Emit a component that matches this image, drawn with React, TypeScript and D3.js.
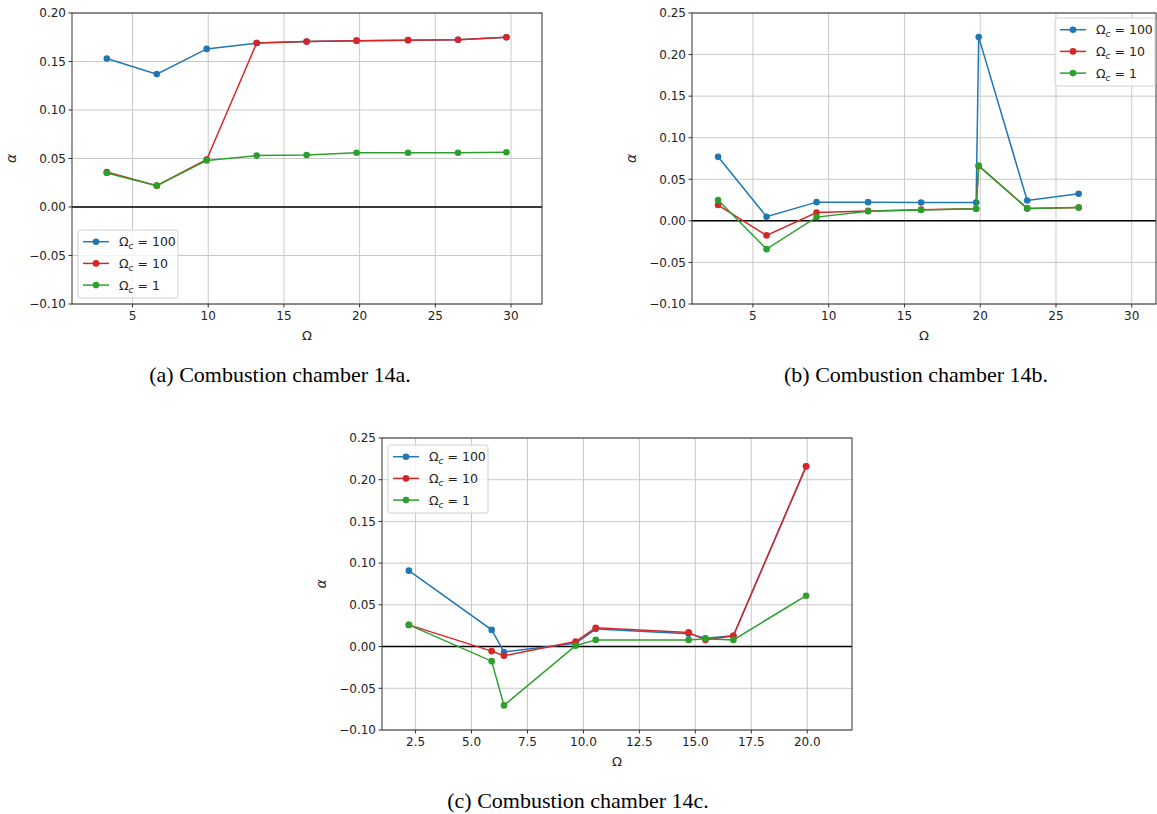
import * as d3 from 'd3'

// Series colours (matplotlib tab10)
const BLUE = '#1f77b4'
const RED = '#d62728'
const GREEN = '#2ca02c'

const SERIES_LABELS = ['100', '10', '1']

// Panel (a) combustion chamber 14a
const A_X = [3.3, 6.6, 9.9, 13.2, 16.5, 19.8, 23.2, 26.5, 29.7]
const A_BLUE = [0.153, 0.137, 0.163, 0.169, 0.1705, 0.1715, 0.172, 0.1725, 0.175]
const A_RED = [0.036, 0.022, 0.049, 0.169, 0.1705, 0.1715, 0.172, 0.1725, 0.175]
const A_GREEN = [0.035, 0.022, 0.048, 0.053, 0.0535, 0.056, 0.056, 0.056, 0.0565]
const A_XTICKS = [5, 10, 15, 20, 25, 30]
const A_YTICKS = [-0.1, -0.05, 0, 0.05, 0.1, 0.15, 0.2]

// Panel (b) combustion chamber 14b
const B_X = [2.7, 5.9, 9.2, 12.6, 16.1, 19.73, 19.9, 23.1, 26.5]
const B_BLUE = [0.077, 0.005, 0.0225, 0.0225, 0.022, 0.022, 0.221, 0.0245, 0.0325]
const B_RED = [0.019, -0.0175, 0.01, 0.012, 0.0135, 0.0145, 0.066, 0.015, 0.016]
const B_GREEN = [0.025, -0.034, 0.0045, 0.0115, 0.013, 0.0145, 0.0665, 0.015, 0.016]
const B_XTICKS = [5, 10, 15, 20, 25, 30]
const B_YTICKS = [-0.1, -0.05, 0, 0.05, 0.1, 0.15, 0.2, 0.25]

// Panel (c) combustion chamber 14c
const C_X = [2.2, 5.9, 6.45, 9.65, 10.55, 14.7, 15.45, 16.7, 19.95]
const C_BLUE = [0.091, 0.02, -0.0065, 0.004, 0.021, 0.0155, 0.01, 0.013, 0.216]
const C_RED = [0.026, -0.0055, -0.011, 0.006, 0.0225, 0.017, 0.008, 0.013, 0.216]
const C_GREEN = [0.026, -0.0175, -0.0705, 0.001, 0.008, 0.008, 0.0095, 0.008, 0.061]
const C_XTICKS = [2.5, 5, 7.5, 10, 12.5, 15, 17.5, 20]
const C_YTICKS = [-0.1, -0.05, 0, 0.05, 0.1, 0.15, 0.2, 0.25]

const PANELS = [
  {
    key: 'a', left: 72, top: 13, right: 542, bottom: 304,
    xDomain: [1.0, 32.05], yDomain: [-0.1, 0.2],
    xs: A_X, series: [A_BLUE, A_RED, A_GREEN],
    xTicks: A_XTICKS, yTicks: A_YTICKS, xFmt: d3.format('d'),
    legend: { x: 78, y: 230 },
    caption: '(a) Combustion chamber 14a.', capX: 280, capY: 382,
  },
  {
    key: 'b', left: 692, top: 13, right: 1156, bottom: 304,
    xDomain: [0.98, 31.6], yDomain: [-0.1, 0.25],
    xs: B_X, series: [B_BLUE, B_RED, B_GREEN],
    xTicks: B_XTICKS, yTicks: B_YTICKS, xFmt: d3.format('d'),
    legend: { x: 1055, y: 18 },
    caption: '(b) Combustion chamber 14b.', capX: 916, capY: 382,
  },
  {
    key: 'c', left: 382, top: 438, right: 852, bottom: 730,
    xDomain: [1.0, 22.0], yDomain: [-0.1, 0.25],
    xs: C_X, series: [C_BLUE, C_RED, C_GREEN],
    xTicks: C_XTICKS, yTicks: C_YTICKS, xFmt: d3.format('.1f'),
    legend: { x: 388, y: 445 },
    caption: '(c) Combustion chamber 14c.', capX: 578, capY: 808,
  },
]

const COLORS = [BLUE, RED, GREEN]
const SANS = 'DejaVu Sans, sans-serif'
const yFmt = (v: number) => d3.format('.2f')(v).replace('-', '\u2212')

function Legend({ x, y }: { x: number; y: number }) {
  return (
    <g transform={`translate(${x},${y})`}>
      <rect width={100} height={68} rx={2.5} fill="white" fillOpacity={0.8} stroke="#d0d0d0" strokeWidth={1} />
      {SERIES_LABELS.map((lab, i) => {
        const cy = 11.7 + i * 21.7
        return (
          <g key={lab}>
            <line x1={5} x2={31} y1={cy} y2={cy} stroke={COLORS[i]} strokeWidth={1.5} />
            <circle cx={18} cy={cy} r={3.3} fill={COLORS[i]} />
            <text x={41} y={cy + 4.5} fontFamily={SANS} fontSize={12.5} fill="#222">
              Ω<tspan fontStyle="italic" fontSize={9} dy={3}>c</tspan>
              <tspan dy={-3}> = {lab}</tspan>
            </text>
          </g>
        )
      })}
    </g>
  )
}

function Panel({ p }: { p: any }) {
  const x = d3.scaleLinear().domain(p.xDomain).range([p.left, p.right])
  const y = d3.scaleLinear().domain(p.yDomain).range([p.bottom, p.top])
  const line = d3.line<number>().x((_, i) => x(p.xs[i])).y((d) => y(d))
  const midX = (p.left + p.right) / 2
  const midY = (p.top + p.bottom) / 2

  return (
    <g>
      {/* grid */}
      {p.xTicks.map((t: number) => (
        <line key={'gx' + t} x1={x(t)} x2={x(t)} y1={p.top} y2={p.bottom} stroke="#c8c8c8" strokeWidth={1} />
      ))}
      {p.yTicks.map((t: number) => (
        <line key={'gy' + t} x1={p.left} x2={p.right} y1={y(t)} y2={y(t)} stroke="#c8c8c8" strokeWidth={1} />
      ))}

      {/* zero line */}
      <line x1={p.left} x2={p.right} y1={y(0)} y2={y(0)} stroke="black" strokeWidth={1.5} />

      {/* series */}
      {p.series.map((vals: number[], si: number) => (
        <g key={si}>
          <path d={line(vals) ?? ''} fill="none" stroke={COLORS[si]} strokeWidth={1.5} />
          {vals.map((v, i) => (
            <circle key={i} cx={x(p.xs[i])} cy={y(v)} r={3.3} fill={COLORS[si]} />
          ))}
        </g>
      ))}

      {/* frame */}
      <rect x={p.left} y={p.top} width={p.right - p.left} height={p.bottom - p.top} fill="none" stroke="#333" strokeWidth={1} />

      {/* ticks */}
      {p.xTicks.map((t: number) => (
        <g key={'tx' + t}>
          <line x1={x(t)} x2={x(t)} y1={p.bottom} y2={p.bottom + 3.5} stroke="#333" />
          <text x={x(t)} y={p.bottom + 16} textAnchor="middle" fontFamily={SANS} fontSize={12} fill="#222">
            {p.xFmt(t)}
          </text>
        </g>
      ))}
      {p.yTicks.map((t: number) => (
        <g key={'ty' + t}>
          <line x1={p.left - 3.5} x2={p.left} y1={y(t)} y2={y(t)} stroke="#333" />
          <text x={p.left - 6} y={y(t) + 4.3} textAnchor="end" fontFamily={SANS} fontSize={12} fill="#222">
            {yFmt(t)}
          </text>
        </g>
      ))}

      {/* axis labels */}
      <text x={midX} y={p.bottom + 36} textAnchor="middle" fontFamily={SANS} fontSize={13} fill="#222">Ω</text>
      <text
        transform={`translate(${p.left - 56},${midY}) rotate(-90)`}
        textAnchor="middle" fontFamily={SANS} fontStyle="italic" fontSize={14} fill="#222"
      >α</text>

      <Legend x={p.legend.x} y={p.legend.y} />

      <text x={p.capX} y={p.capY} textAnchor="middle" fontFamily="Liberation Serif, serif" fontSize={22} fill="black">
        {p.caption}
      </text>
    </g>
  )
}

export default function App() {
  return (
    <svg width={1157} height={814} style={{ position: 'absolute', left: 0, top: 0, background: 'white' }}>
      <rect width={1157} height={814} fill="white" />
      {PANELS.map((p) => <Panel key={p.key} p={p} />)}
    </svg>
  )
}
